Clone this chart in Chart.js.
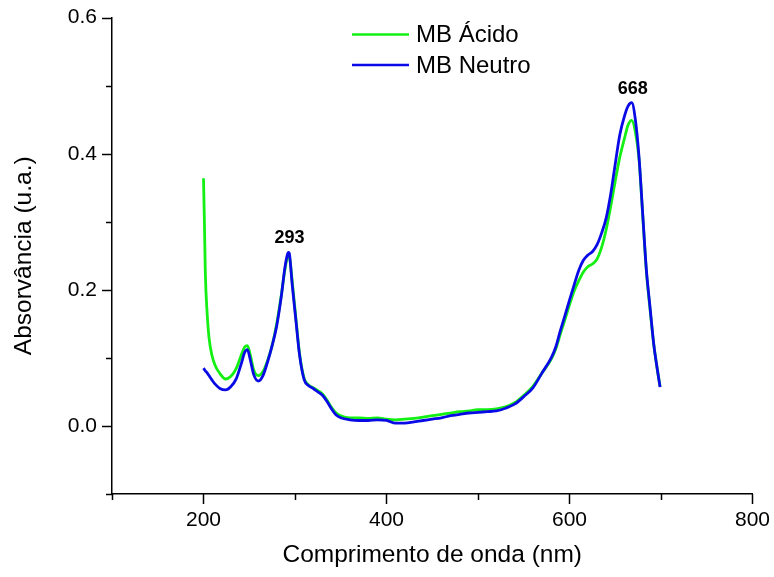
<!DOCTYPE html>
<html>
<head>
<meta charset="utf-8">
<title>Espectro UV-Vis do azul de metileno</title>
<script src="https://cdn.jsdelivr.net/npm/chart.js@4.4.1/dist/chart.umd.min.js"></script>
<style>
  html, body { margin: 0; padding: 0; background: #ffffff; }
  #wrap { width: 774px; height: 577px; }
</style>
</head>
<body>
<div id="wrap"><canvas id="c" width="774" height="577"></canvas></div>
<script>
// Comprimento de onda (nm), shared by both spectra
const wavelength = [
  200, 201, 202, 204, 206, 209, 213, 218, 224, 230, 236, 241, 245, 248, 251, 255,
  260, 265, 270, 275, 280, 285, 289, 292, 293, 294, 297, 301, 305, 310, 315, 320,
  325, 330, 335, 340, 345, 350, 360, 370, 380, 390, 400, 410, 420, 430, 440, 450,
  460, 470, 480, 490, 500, 510, 520, 530, 540, 550, 560, 570, 580, 585, 590, 595,
  600, 605, 610, 615, 620, 625, 630, 635, 640, 645, 650, 655, 660, 664, 668, 672,
  676, 680, 684, 688, 692, 696, 699
];

// Absorvância — MB Ácido
const absAcido = [
  0.364, 0.300, 0.225, 0.165, 0.130, 0.105, 0.088, 0.077, 0.069, 0.073, 0.085, 0.103, 0.116, 0.118, 0.105, 0.082,
  0.074, 0.080, 0.096, 0.118, 0.150, 0.192, 0.230, 0.249, 0.250, 0.248, 0.212, 0.158, 0.106, 0.070, 0.060, 0.056,
  0.052, 0.047, 0.038, 0.027, 0.019, 0.015, 0.012, 0.012, 0.011, 0.012, 0.010, 0.009, 0.010, 0.011, 0.013, 0.015,
  0.017, 0.019, 0.021, 0.022, 0.024, 0.024, 0.025, 0.028, 0.034, 0.045, 0.058, 0.078, 0.098, 0.113, 0.135, 0.156,
  0.178, 0.198, 0.213, 0.226, 0.234, 0.238, 0.245, 0.262, 0.288, 0.322, 0.360, 0.395, 0.422, 0.442, 0.449, 0.432,
  0.392, 0.310, 0.228, 0.172, 0.121, 0.083, 0.058
];

// Absorvância — MB Neutro
const absNeutro = [
  0.085, 0.083, 0.081, 0.078, 0.074, 0.068, 0.061, 0.055, 0.053, 0.058, 0.070, 0.090, 0.108, 0.112, 0.098, 0.075,
  0.066, 0.074, 0.094, 0.118, 0.147, 0.190, 0.233, 0.253, 0.255, 0.252, 0.207, 0.155, 0.104, 0.068, 0.059, 0.055,
  0.050, 0.045, 0.036, 0.025, 0.016, 0.012, 0.009, 0.008, 0.008, 0.009, 0.008, 0.004, 0.004, 0.006, 0.008, 0.010,
  0.012, 0.015, 0.017, 0.019, 0.020, 0.021, 0.022, 0.026, 0.032, 0.043, 0.056, 0.078, 0.100, 0.116, 0.140, 0.162,
  0.185, 0.207, 0.228, 0.243, 0.251, 0.256, 0.266, 0.283, 0.305, 0.340, 0.385, 0.428, 0.455, 0.470, 0.475, 0.450,
  0.395, 0.312, 0.230, 0.175, 0.121, 0.083, 0.057
];

const seriesNames = ['MB Ácido', 'MB Neutro'];
const peakLabels = [293, 668];
const xTickLabels = [200, 400, 600, 800];
const yTickLabels = [0.0, 0.2, 0.4, 0.6];

const FONT = 'Arial, "Liberation Sans", sans-serif';
const GREEN = '#14f014';
const BLUE = '#0a0ae6';

function toPoints(ys) {
  return wavelength.map((x, i) => ({ x: x, y: ys[i] }));
}

function isLabelled(list, v) {
  return list.some(t => Math.abs(t - v) < 1e-9);
}

// Outward tick marks: long at labelled values, short in between
const tickMarks = {
  id: 'tickMarks',
  afterDraw(chart) {
    const { ctx, chartArea, scales } = chart;
    ctx.save();
    ctx.strokeStyle = '#000';
    ctx.lineWidth = 1.5;
    for (let v = 100; v <= 800; v += 100) {
      const px = Math.round(scales.x.getPixelForValue(v)) + 0.5;
      const len = isLabelled(xTickLabels, v) ? 10 : 6;
      ctx.beginPath();
      ctx.moveTo(px, chartArea.bottom);
      ctx.lineTo(px, chartArea.bottom + len);
      ctx.stroke();
    }
    for (let k = -1; k <= 6; k++) {
      const v = k / 10;
      const py = Math.round(scales.y.getPixelForValue(v)) + 0.5;
      const len = isLabelled(yTickLabels, v) ? 10 : 6;
      ctx.beginPath();
      ctx.moveTo(chartArea.left, py);
      ctx.lineTo(chartArea.left - len, py);
      ctx.stroke();
    }
    ctx.restore();
  }
};

// Legend drawn inside the plot area
const innerLegend = {
  id: 'innerLegend',
  afterDraw(chart) {
    const { ctx } = chart;
    const x0 = 352, x1 = 409, tx = 416;
    const rows = [34.5, 65];
    ctx.save();
    ctx.font = '24px ' + FONT;
    ctx.textBaseline = 'middle';
    ctx.fillStyle = '#000';
    chart.data.datasets.forEach((ds, i) => {
      ctx.strokeStyle = ds.borderColor;
      ctx.lineWidth = 2.5;
      ctx.beginPath();
      ctx.moveTo(x0, rows[i]);
      ctx.lineTo(x1, rows[i]);
      ctx.stroke();
      ctx.fillText(ds.label, tx, rows[i] + 1);
    });
    ctx.restore();
  }
};

// Peak wavelength labels placed above the highest curve at that wavelength
const peakText = {
  id: 'peakText',
  afterDraw(chart) {
    const { ctx, scales } = chart;
    ctx.save();
    ctx.font = 'bold 18px ' + FONT;
    ctx.textAlign = 'center';
    ctx.textBaseline = 'middle';
    ctx.fillStyle = '#000';
    peakLabels.forEach(wl => {
      const i = wavelength.indexOf(wl);
      const top = Math.max(absAcido[i], absNeutro[i]);
      const px = scales.x.getPixelForValue(wl);
      const py = scales.y.getPixelForValue(top);
      ctx.fillText(String(wl), px + 1, py - 14);
    });
    ctx.restore();
  }
};

new Chart(document.getElementById('c'), {
  type: 'line',
  data: {
    datasets: [
      {
        label: seriesNames[0],
        data: toPoints(absAcido),
        borderColor: GREEN,
        borderWidth: 2.8,
        pointRadius: 0,
        cubicInterpolationMode: 'monotone',
        fill: false,
        order: 2
      },
      {
        label: seriesNames[1],
        data: toPoints(absNeutro),
        borderColor: BLUE,
        borderWidth: 2.8,
        pointRadius: 0,
        cubicInterpolationMode: 'monotone',
        fill: false,
        order: 1
      }
    ]
  },
  options: {
    responsive: false,
    animation: false,
    devicePixelRatio: 1,
    layout: { padding: { left: 10, right: 20, top: 17, bottom: 7 } },
    plugins: {
      legend: { display: false },
      tooltip: { enabled: false }
    },
    scales: {
      x: {
        type: 'linear',
        min: 100,
        max: 800,
        grid: { display: false, drawTicks: true, tickLength: 10 },
        border: { display: true, color: '#000', width: 1.5 },
        ticks: {
          stepSize: 100,
          autoSkip: false,
          maxRotation: 0,
          padding: 4,
          color: '#000',
          font: { family: FONT, size: 21 },
          callback: v => (isLabelled(xTickLabels, v) ? String(v) : '')
        },
        title: {
          display: true,
          text: 'Comprimento de onda (nm)',
          color: '#000',
          font: { family: FONT, size: 24.5 },
          padding: { top: 0, bottom: 0 }
        },
        afterFit(s) { s.height = 577 - 494 - 7; }
      },
      y: {
        type: 'linear',
        min: -0.1,
        max: 0.6,
        grid: { display: false, drawTicks: true, tickLength: 10 },
        border: { display: true, color: '#000', width: 1.5 },
        ticks: {
          stepSize: 0.1,
          autoSkip: false,
          padding: 5,
          color: '#000',
          font: { family: FONT, size: 21 },
          callback: v => (isLabelled(yTickLabels, v) ? (Math.round(v * 10) / 10 + 0).toFixed(1) : '')
        },
        title: {
          display: true,
          text: 'Absorvância (u.a.)',
          color: '#000',
          font: { family: FONT, size: 24.5 },
          padding: { top: 0, bottom: 0 }
        },
        afterFit(s) { s.width = 112 - 10; }
      }
    }
  },
  plugins: [tickMarks, innerLegend, peakText]
});
</script>
</body>
</html>
